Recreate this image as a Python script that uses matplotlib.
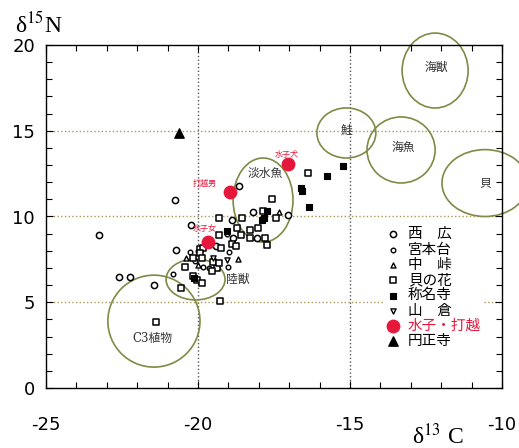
import matplotlib
matplotlib.use('Agg')
import matplotlib.pyplot as plt
from matplotlib.patches import Ellipse
from matplotlib.ticker import MultipleLocator

plt.rcParams['font.family'] = ['DejaVu Sans', 'Noto Sans CJK JP']
plt.rcParams['mathtext.fontset'] = 'stix'
plt.rcParams['axes.unicode_minus'] = False

# 食料資源の範囲 (楕円)
area_names = ['C3植物', '陸獣', '淡水魚', '鮭', '海魚', '海獣', '貝']
area_x = [-21.45, -20.08, -17.86, -15.12, -13.32, -12.20, -10.56]
area_y = [3.90, 6.33, 10.96, 14.87, 13.88, 18.51, 11.95]
area_w = [3.03, 1.94, 1.97, 1.94, 2.24, 2.17, 2.83]
area_h = [5.36, 2.39, 4.90, 2.92, 3.85, 4.37, 3.90]
area_lx = [-21.50, -18.68, -17.80, -15.13, -13.26, -12.17, -10.56]
area_ly = [2.86, 6.36, 12.50, 15.04, 14.00, 18.72, 12.01]

# 遺跡ごとの人骨データ (δ13C, δ15N)
nishihiro_x = [-20.76, -23.26, -18.65, -18.19, -17.04, -18.88, -20.23, -18.06,
               -18.85, -22.60, -22.24, -21.45, -20.72, -19.41]
nishihiro_y = [10.96, 8.92, 11.78, 10.26, 10.09, 9.80, 9.50, 8.75,
               8.75, 6.47, 6.47, 6.01, 8.05, 8.28]

miyamotodai_x = [-20.26, -20.00, -20.10, -19.84, -19.64, -19.01, -18.98, -20.82, -19.05]
miyamotodai_y = [7.93, 7.99, 7.41, 7.06, 7.00, 7.06, 7.93, 6.65, 8.98]

nakabyo_x = [-17.34, -18.68, -20.00, -20.39]
nakabyo_y = [10.26, 7.52, 7.17, 7.58]

kainohana_x = [-17.57, -16.38, -17.86, -17.43, -19.31, -18.55, -18.72, -18.03,
               -18.29, -18.59, -19.31, -18.29, -17.80, -18.88, -18.75, -17.73,
               -19.24, -19.93, -19.84, -19.93, -19.38, -19.54, -19.51, -19.31,
               -20.16, -19.87, -20.43, -20.16, -20.03, -19.87, -20.56, -21.38, -19.28]
kainohana_y = [11.02, 12.54, 10.32, 9.91, 9.91, 9.91, 9.33, 9.33,
               9.21, 8.92, 8.92, 8.75, 8.75, 8.40, 8.28, 8.34,
               8.16, 8.10, 8.16, 7.87, 7.00, 6.82, 7.35, 7.29,
               7.58, 7.58, 7.06, 6.53, 6.30, 6.12, 5.83, 3.85, 5.07]

shomyoji_x = [-15.23, -15.76, -16.61, -16.58, -16.35, -17.73, -17.83, -17.89, -19.05, -20.13]
shomyoji_y = [12.95, 12.36, 11.66, 11.49, 10.55, 10.32, 9.91, 9.80, 9.15, 6.41]

yamakura_x = [-19.05, -19.51]
yamakura_y = [7.46, 7.60]

mizuko_names = ['打越男', '水子犬', '水子女']
mizuko_x = [-18.95, -17.04, -19.67]
mizuko_y = [11.43, 13.06, 8.51]
mizuko_lx = [-19.77, -17.07, -19.77]
mizuko_ly = [11.95, 13.59, 9.33]

enshoji_x = [-20.62]
enshoji_y = [14.87]

legend_names = ['西\u3000広', '宮本台', '中\u3000峠', '貝の花', '称名寺', '山\u3000倉', '水子・打越', '円正寺']

red = '#e5183c'
olive = '#7f8a45'

fig = plt.figure(figsize=(5.19, 4.48), dpi=100)
ax = fig.add_axes([46 / 519, 60 / 448, 456 / 519, 343 / 448])

# 楕円
for i in range(len(area_names)):
    e = Ellipse((area_x[i], area_y[i]), area_w[i], area_h[i], fill=False,
                edgecolor=olive, lw=1.2, clip_on=False, zorder=2)
    ax.add_patch(e)
    ax.text(area_lx[i], area_ly[i], area_names[i], ha='center', va='center',
            fontsize=8.5, color='#333333', zorder=3,
            family=['DejaVu Serif', 'Noto Sans CJK JP'])

# 補助線
for xv in [-20, -15]:
    ax.axvline(xv, ls=':', color='#555555', lw=1, zorder=1)
for yv in [5, 10, 15]:
    ax.axhline(yv, ls=':', color='#a89a5a', lw=1, zorder=1)

h = []
h.append(ax.scatter(nishihiro_x, nishihiro_y, s=20, marker='o', facecolor='white', edgecolor='black', lw=1.1, zorder=4))
h.append(ax.scatter(miyamotodai_x, miyamotodai_y, s=11, marker='o', facecolor='white', edgecolor='black', lw=1.0, zorder=4))
h.append(ax.scatter(nakabyo_x, nakabyo_y, s=13, marker='^', facecolor='white', edgecolor='black', lw=1.0, zorder=4))
h.append(ax.scatter(kainohana_x, kainohana_y, s=20, marker='s', facecolor='white', edgecolor='black', lw=1.1, zorder=4))
h.append(ax.scatter(shomyoji_x, shomyoji_y, s=22, marker='s', facecolor='black', edgecolor='black', lw=0.8, zorder=4))
h.append(ax.scatter(yamakura_x, yamakura_y, s=14, marker='v', facecolor='white', edgecolor='black', lw=1.0, zorder=4))
h.append(ax.scatter(mizuko_x, mizuko_y, s=80, marker='o', facecolor=red, edgecolor=red, zorder=5))
h.append(ax.scatter(enshoji_x, enshoji_y, s=45, marker='^', facecolor='black', edgecolor='black', zorder=5))

for i in range(len(mizuko_names)):
    ax.text(mizuko_lx[i], mizuko_ly[i], mizuko_names[i], ha='center', va='center',
            fontsize=5.8, color=red, zorder=6)

ax.set_xlim(-25, -10)
ax.set_ylim(0, 20)
ax.xaxis.set_major_locator(MultipleLocator(5))
ax.xaxis.set_minor_locator(MultipleLocator(1))
ax.yaxis.set_major_locator(MultipleLocator(5))
ax.yaxis.set_minor_locator(MultipleLocator(1))
ax.tick_params(which='both', direction='in', top=True, right=True, width=0.8)
ax.tick_params(which='major', length=5, labelsize=13)
ax.tick_params(which='minor', length=4)
ax.tick_params(axis='x', which='major', pad=20)
ax.tick_params(axis='y', which='major', pad=8)
for sp in ax.spines.values():
    sp.set_linewidth(1.0)

leg = ax.legend(h, legend_names, loc='upper left', bbox_to_anchor=(0.739, 0.48),
                borderaxespad=0, borderpad=0.2, handlelength=1.0, handletextpad=0.5,
                labelspacing=0.02, fontsize=10.5, frameon=True, fancybox=False,
                edgecolor='none', facecolor='white', framealpha=1, scatterpoints=1)
leg.get_texts()[6].set_color(red)
leg.set_zorder(7)

fig.text(39 / 519, 1 - 25 / 448, 'δ$^{15}$N', ha='center', va='center', fontsize=17,
         family='Liberation Serif')
fig.text(438 / 519, 1 - 436 / 448, 'δ$^{13}$ C', ha='center', va='center', fontsize=17,
         family='Liberation Serif')

fig.savefig('out.png', dpi=100, facecolor='white')
